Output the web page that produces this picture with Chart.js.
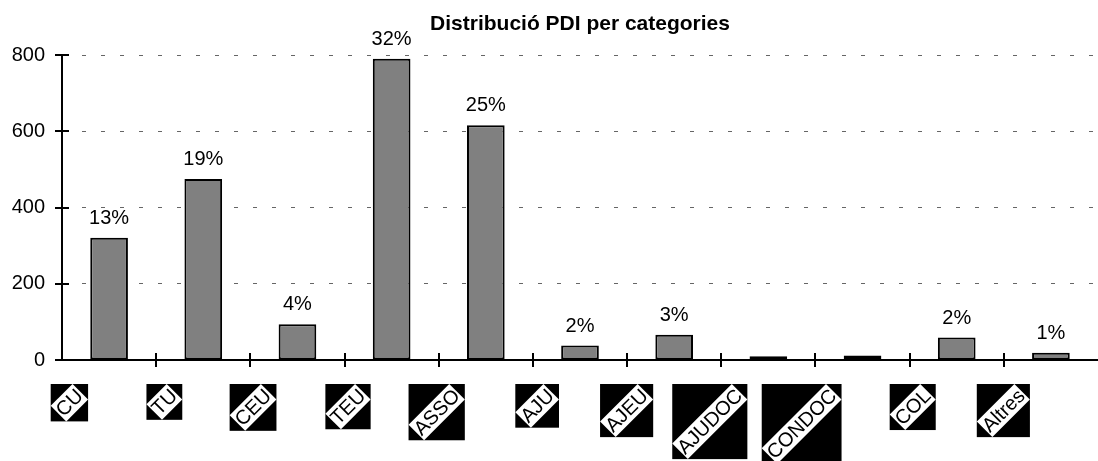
<!DOCTYPE html>
<html>
<head>
<meta charset="utf-8">
<script src="https://cdn.jsdelivr.net/npm/chart.js@4.4.0/dist/chart.umd.min.js"></script>
<style>
  html, body { margin: 0; padding: 0; background: #fff; }
  #wrap { width: 1098px; height: 461px; }
</style>
</head>
<body>
<div id="wrap"><canvas id="pdiChart"></canvas></div>
<script>
const categories = ['CU', 'TU', 'CEU', 'TEU', 'ASSO', 'AJU', 'AJEU', 'AJUDOC', 'CONDOC', 'COL', 'Altres'];
const pdiCount = [321, 475, 94, 791, 616, 38, 66, 10, 12, 59, 19];
const pctLabels = ['13%', '19%', '4%', '32%', '25%', '2%', '3%', '', '', '2%', '1%'];
const yTicks = [0, 200, 400, 600, 800];

const FONT = '"Liberation Sans", Arial, sans-serif';

// percent labels over the bars
const pctPlugin = {
  id: 'pctLabels',
  afterDatasetsDraw(chart) {
    const ctx = chart.ctx;
    const meta = chart.getDatasetMeta(0);
    ctx.save();
    ctx.font = '20px ' + FONT;
    ctx.fillStyle = '#000';
    ctx.textAlign = 'center';
    ctx.textBaseline = 'alphabetic';
    meta.data.forEach((bar, i) => {
      if (pctLabels[i]) ctx.fillText(pctLabels[i], bar.x, bar.y - 14);
    });
    ctx.restore();
  }
};

// tick marks crossing the axes + rotated category labels in black boxes
const axisPlugin = {
  id: 'axisDecor',
  afterDraw(chart) {
    const ctx = chart.ctx;
    const x = chart.scales.x;
    const y = chart.scales.y;
    const area = chart.chartArea;
    ctx.save();
    ctx.strokeStyle = '#000';
    ctx.lineWidth = 2;
    ctx.beginPath();
    y.ticks.forEach((t) => {
      const py = Math.round(y.getPixelForValue(t.value));
      ctx.moveTo(area.left - 7, py);
      ctx.lineTo(area.left + 7, py);
    });
    for (let i = 1; i < categories.length; i++) {
      const px = Math.round((x.getPixelForValue(i - 1) + x.getPixelForValue(i)) / 2);
      ctx.moveTo(px, area.bottom - 7);
      ctx.lineTo(px, area.bottom + 7);
    }
    ctx.stroke();

    ctx.font = '20px ' + FONT;
    ctx.textAlign = 'center';
    ctx.textBaseline = 'middle';
    const h = 22;
    const top = area.bottom + 24;
    categories.forEach((label, i) => {
      const w = ctx.measureText(label).width + 2;
      const side = (w + h) * Math.SQRT1_2;
      const right = x.getPixelForValue(i) - 21;
      const left = right - side;
      ctx.fillStyle = '#000';
      ctx.fillRect(left, top, side, side);
      ctx.save();
      ctx.translate(left + side / 2, top + side / 2);
      ctx.rotate(-Math.PI / 4);
      ctx.fillStyle = '#fff';
      ctx.fillRect(-w / 2, -h / 2, w, h);
      ctx.fillStyle = '#000';
      ctx.fillText(label, 0, 1);
      ctx.restore();
    });
    ctx.restore();
  }
};

new Chart(document.getElementById('pdiChart'), {
  type: 'bar',
  data: {
    labels: categories,
    datasets: [{
      label: 'PDI',
      data: pdiCount,
      backgroundColor: '#808080',
      borderColor: '#000',
      borderWidth: 2,
      borderSkipped: false,
      barPercentage: 0.4,
      categoryPercentage: 1.0
    }]
  },
  options: {
    responsive: true,
    maintainAspectRatio: false,
    animation: false,
    layout: { padding: 0 },
    plugins: {
      legend: { display: false },
      tooltip: { enabled: false },
      title: {
        display: true,
        text: 'Distribució PDI per categories',
        color: '#000',
        fullSize: false,
        font: { family: FONT, size: 21, weight: 'bold', lineHeight: 1.2 },
        padding: { top: 12, bottom: 18 }
      }
    },
    scales: {
      x: {
        type: 'category',
        offset: true,
        grid: { display: false, drawTicks: false },
        border: { display: true, color: '#000', width: 2 },
        ticks: { display: false },
        afterFit(scale) { scale.height = 101; }
      },
      y: {
        min: 0,
        max: 800,
        afterBuildTicks(scale) { scale.ticks = yTicks.map((v) => ({ value: v })); },
        grid: { color: '#666', lineWidth: 1, drawTicks: false },
        border: { display: true, color: '#000', width: 2, dash: [4, 15] },
        ticks: { color: '#000', padding: 17, font: { family: FONT, size: 20 } },
        afterFit(scale) { scale.width = 62; }
      }
    }
  },
  plugins: [pctPlugin, axisPlugin]
});
</script>
</body>
</html>
